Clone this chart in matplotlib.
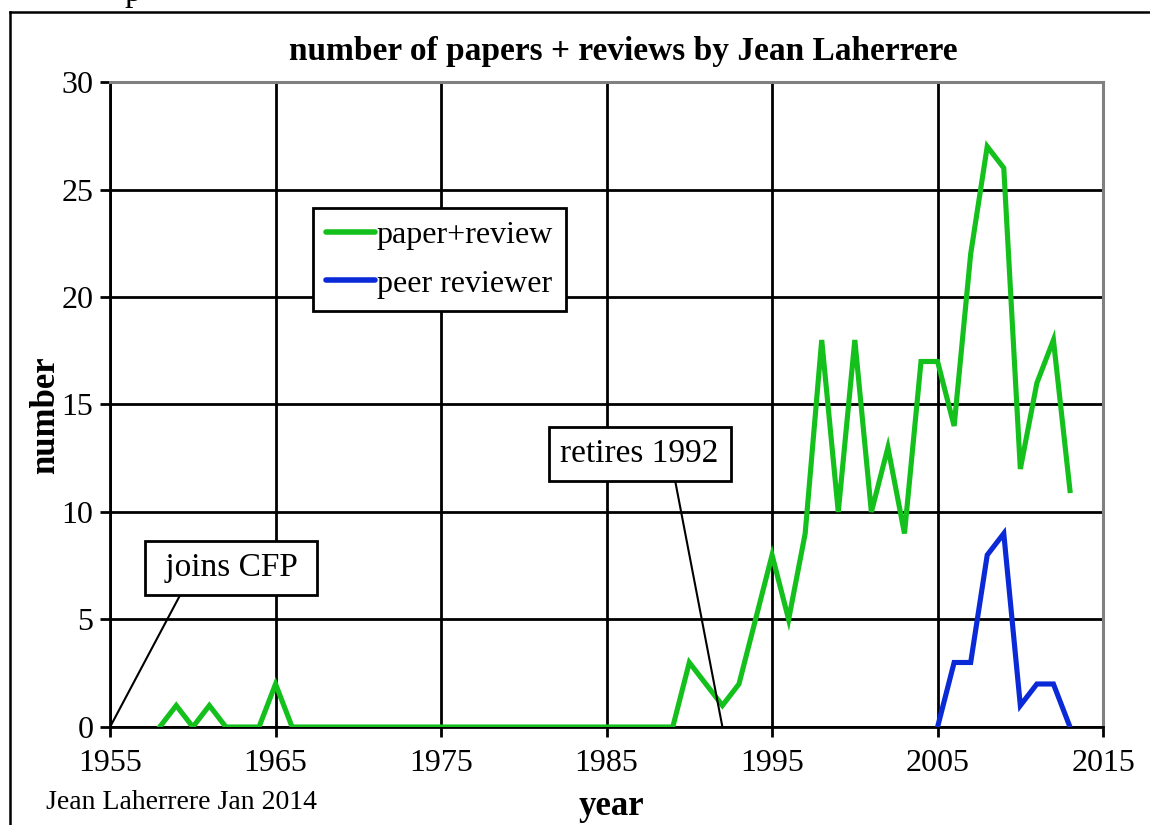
#!/usr/bin/env python3

import matplotlib
matplotlib.use("Agg")
import matplotlib.pyplot as plt
from matplotlib.lines import Line2D

# data
years_green = list(range(1958, 2014))
papers = [0, 1, 0, 1, 0, 0, 0, 2] + [0] * 24 + \
         [3, 2, 1, 2, 5, 8, 5, 9, 18, 10, 18, 10, 13, 9, 17, 17, 14, 22, 27, 26, 12, 16, 18, 11]
years_blue = list(range(2005, 2014))
reviewer = [0, 3, 3, 8, 9, 1, 2, 2, 0]

x_ticks = [1955, 1965, 1975, 1985, 1995, 2005, 2015]
y_ticks = [0, 5, 10, 15, 20, 25, 30]

GREEN = "#14c01c"
BLUE = "#0a2ad8"

plt.rcParams["font.family"] = ["Liberation Serif", "DejaVu Serif"]

fig = plt.figure(figsize=(11.5, 8.25), dpi=100)
ax = fig.add_axes([0.0957, 0.1188, 0.8635, 0.7818])

ax.plot(years_green, papers, color=GREEN, lw=3.7, solid_joinstyle="miter", label="paper+review", zorder=4)
ax.plot(years_blue, reviewer, color=BLUE, lw=3.7, solid_joinstyle="miter", label="peer reviewer", zorder=4)

ax.set_xlim(1955, 2015)
ax.set_ylim(0, 30)
ax.set_xticks(x_ticks)
ax.set_yticks(y_ticks)
ax.grid(True, color="black", lw=2)
ax.set_axisbelow(True)

for side in ("top", "right"):
    ax.spines[side].set_color("#808080")
    ax.spines[side].set_linewidth(2.2)
for side in ("left", "bottom"):
    ax.spines[side].set_color("black")
    ax.spines[side].set_linewidth(2)

ax.tick_params(axis="both", direction="out", length=7, width=2, labelsize=23)
ax.tick_params(axis="x", pad=9)
ax.tick_params(axis="y", pad=5)

leg = ax.legend(loc="upper left", bbox_to_anchor=(0.2044, 0.8047), fontsize=23,
                frameon=True, fancybox=False, framealpha=1, edgecolor="black",
                handlelength=1.55, handletextpad=0.05, labelspacing=0.6,
                borderpad=0.4, borderaxespad=0)
leg.get_frame().set_linewidth(2)
for h in leg.get_lines():
    h.set_linewidth(4)
    h.set_solid_capstyle("round")

box = dict(boxstyle="square,pad=0.35", fc="white", ec="black", lw=2)
ax.annotate(" joins CFP ", xy=(1955, 0), xytext=(1962.3, 7.4), fontsize=24,
            ha="center", va="center", bbox=box, zorder=5,
            arrowprops=dict(arrowstyle="-", color="black", lw=1.5, relpos=(0.2, 0.0),
                            shrinkA=0, shrinkB=0))
ax.annotate("retires 1992", xy=(1992, 0), xytext=(1987.0, 12.7), fontsize=24,
            ha="center", va="center", bbox=box, zorder=5,
            arrowprops=dict(arrowstyle="-", color="black", lw=1.5, relpos=(0.71, 0.0),
                            shrinkA=0, shrinkB=0))

fig.text(0.542, 0.937, "number of papers + reviews by Jean Laherrere",
         ha="center", va="center", fontsize=24, fontweight="bold")
fig.text(0.040, 0.497, "number", rotation=90, ha="center", va="center",
         fontsize=25, fontweight="bold")
fig.text(0.532, 0.023, "year", ha="center", va="center", fontsize=25, fontweight="bold")
fig.text(0.040, 0.027, "Jean Laherrere Jan 2014", ha="left", va="center", fontsize=20)
fig.text(0.108, 0.999, "p", ha="left", va="baseline", fontsize=24)

# outer frame of the sheet
fig.add_artist(Line2D([0.0087, 1.0], [0.9855, 0.9855], color="black", lw=1.8))
fig.add_artist(Line2D([0.0087, 0.0087], [0.0, 0.9855], color="black", lw=1.8))

fig.savefig("out.png", dpi=100)
